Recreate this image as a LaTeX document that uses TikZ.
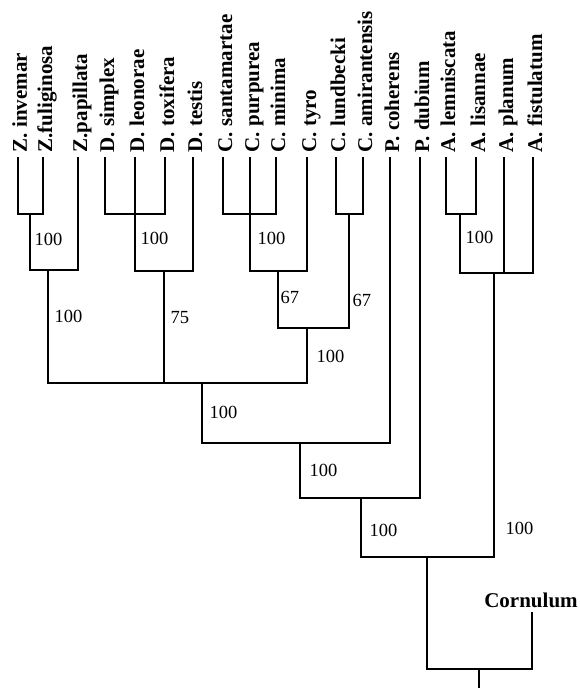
\documentclass[tikz,border=0pt]{standalone}
\usepackage{fontspec}
\setmainfont{Liberation Serif}
\usetikzlibrary{calc}
\tikzset{taxon/.style={rotate=90, anchor=base west, inner sep=0pt, font=\bfseries\fontsize{21}{21}\selectfont},
    boot/.style={anchor=west, inner sep=0pt, font=\fontsize{18.5}{18.5}\selectfont}}

\begin{document}
\begin{tikzpicture}[x=1pt, y=-1pt, line width=1.4pt]
\useasboundingbox (0,0) rectangle (579,688);
\coordinate (zinv) at (18,157);
\coordinate (zful) at (43,157);
\coordinate (zpap) at (78,157);
\coordinate (dsim) at (105,157);
\coordinate (dleo) at (135,157);
\coordinate (dtox) at (165,157);
\coordinate (dtes) at (193,157);
\coordinate (csan) at (223,157);
\coordinate (cpur) at (250,157);
\coordinate (cmin) at (276,157);
\coordinate (ctyr) at (307,157);
\coordinate (clun) at (336,157);
\coordinate (cami) at (363,157);
\coordinate (pcoh) at (390,157);
\coordinate (pdub) at (420,157);
\coordinate (alem) at (446,157);
\coordinate (alis) at (476,157);
\coordinate (apla) at (504,157);
\coordinate (afis) at (533,157);
\coordinate (corn) at (532,612);
\node[taxon] (zinv-t) at ($(zinv)+(9,-4)$) {Z. invemar};
\node[taxon] (zful-t) at ($(zful)+(9,-4)$) {Z.fuliginosa};
\node[taxon] (zpap-t) at ($(zpap)+(9,-4)$) {Z.papillata};
\node[taxon] (dsim-t) at ($(dsim)+(9,-4)$) {D. simplex};
\node[taxon] (dleo-t) at ($(dleo)+(9,-4)$) {D. leonorae};
\node[taxon] (dtox-t) at ($(dtox)+(9,-4)$) {D. toxifera};
\node[taxon] (dtes-t) at ($(dtes)+(9,-4)$) {D. testis};
\node[taxon] (csan-t) at ($(csan)+(9,-4)$) {C. santamartae};
\node[taxon] (cpur-t) at ($(cpur)+(9,-4)$) {C. purpurea};
\node[taxon] (cmin-t) at ($(cmin)+(9,-4)$) {C. minima};
\node[taxon] (ctyr-t) at ($(ctyr)+(9,-4)$) {C. tyro};
\node[taxon] (clun-t) at ($(clun)+(9,-4)$) {C. lundbecki};
\node[taxon] (cami-t) at ($(cami)+(9,-4)$) {C. amirantensis};
\node[taxon] (pcoh-t) at ($(pcoh)+(9,-4)$) {P. coherens};
\node[taxon] (pdub-t) at ($(pdub)+(9,-4)$) {P. dubium};
\node[taxon] (alem-t) at ($(alem)+(9,-4)$) {A. lemniscata};
\node[taxon] (alis-t) at ($(alis)+(9,-4)$) {A. lisannae};
\node[taxon] (apla-t) at ($(apla)+(9,-4)$) {A. planum};
\node[taxon] (afis-t) at ($(afis)+(9,-4)$) {A. fistulatum};
\node[font=\bfseries\fontsize{21}{21}\selectfont, inner sep=0pt] (corn-t) at (531,600) {Cornulum};
\coordinate (zz) at (30,214);
\coordinate (zc) at (48,270);
\coordinate (dd) at (135,214);
\coordinate (dc) at (164,271);
\coordinate (cc1) at (250,214);
\coordinate (cc2) at (278,271);
\coordinate (cl) at (349,214);
\coordinate (cc3) at (307,328);
\coordinate (zdc) at (202,383);
\coordinate (zdp) at (300,443);
\coordinate (zdpp) at (361,498);
\coordinate (al) at (460,214);
\coordinate (ac) at (494,273);
\coordinate (ing) at (427,557);
\coordinate (root) at (479,669);
\coordinate (base) at (479,688);
\draw (zinv) |- (zz) -| (zful);
\draw (zz) |- (zc) -| (zpap);
\draw (dsim) |- (dd) -| (dtox);
\draw (dleo) -- (dd);
\draw (dd) |- (dc) -| (dtes);
\draw (csan) |- (cc1) -| (cmin);
\draw (cpur) -- (cc1);
\draw (cc1) |- (cc2) -| (ctyr);
\draw (clun) |- (cl) -| (cami);
\draw (cc2) |- (cc3) -| (cl);
\draw (zc) |- (zdc) -| (cc3);
\draw (dc) -- (dc |- zdc);
\draw (zdc) |- (zdp) -| (pcoh);
\draw (zdp) |- (zdpp) -| (pdub);
\draw (alem) |- (al) -| (alis);
\draw (al) |- (ac) -| (afis);
\draw (apla) -- (apla |- ac);
\draw (zdpp) |- (ing) -| (ac);
\draw (ing) |- (root) -| (corn);
\draw (root) -- (base);
\node[boot] (b1) at (34,239) {100};
\node[boot] (b2) at (140,238) {100};
\node[boot] (b3) at (257,238) {100};
\node[boot] (b4) at (465,237) {100};
\node[boot] (b5) at (54,316) {100};
\node[boot] (b6) at (170,318) {75};
\node[boot] (b7) at (280,297) {67};
\node[boot] (b8) at (352,300) {67};
\node[boot] (b9) at (316,356) {100};
\node[boot] (b10) at (209,412) {100};
\node[boot] (b11) at (309,470) {100};
\node[boot] (b12) at (369,530) {100};
\node[boot] (b13) at (505,528) {100};
\end{tikzpicture}
\end{document}
